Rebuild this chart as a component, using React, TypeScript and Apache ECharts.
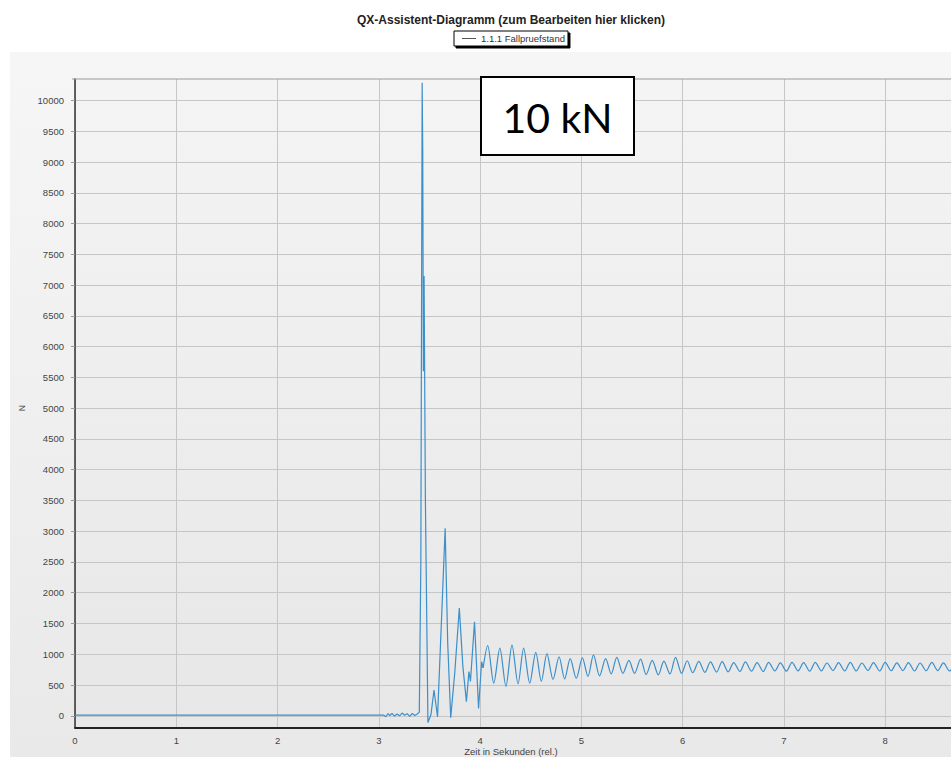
import React, { useEffect, useRef } from "react";
import * as echarts from "echarts";

const chartTitle = "QX-Assistent-Diagramm (zum Bearbeiten hier klicken)";
const seriesName = "1.1.1 Fallpruefstand";
const xAxisTitle = "Zeit in Sekunden (rel.)";
const yAxisTitle = "N";
const annotation = "10 kN";

// Impact phase (baseline, noise, main spike, first rebounds) – seconds / newtons
const impactTimes = [
  0, 3.05, 3.07, 3.09, 3.11, 3.13, 3.155, 3.18, 3.205, 3.23, 3.255, 3.28, 3.305,
  3.33, 3.355, 3.38, 3.4, 3.415, 3.428, 3.434, 3.44, 3.447, 3.46, 3.485, 3.515,
  3.545, 3.58, 3.62, 3.655, 3.68, 3.71, 3.75, 3.795, 3.83, 3.865, 3.89, 3.905,
  3.945, 3.985, 4.015, 4.03,
];
const impactForces = [
  10, 10, -15, 35, 5, 40, -5, 30, 0, 45, 10, 35, -10,
  40, 5, 30, 60, 2500, 10290, 9150, 5600, 7150, 3500, -110, 20,
  420, -20, 1600, 3050, 1200, -30, 700, 1750, 800, 230, 720, 560,
  1530, 120, 880, 780,
];

// Ringing phase (decaying oscillation around ~800 N)
const ringTimes = [
  4.03, 4.075, 4.135, 4.195, 4.255, 4.315, 4.375, 4.43, 4.49, 4.55, 4.605, 4.66,
  4.72, 4.78, 4.835, 4.89, 4.95, 5.01, 5.065, 5.12, 5.18, 5.24, 5.295, 5.35,
  5.41, 5.47, 5.525, 5.585, 5.64, 5.7, 5.76, 5.815, 5.875, 5.93, 5.99, 6.045,
  6.1, 6.16, 6.22, 6.275, 6.335, 6.39, 6.45, 6.505, 6.565, 6.62, 6.68, 6.735,
  6.795, 6.85, 6.91, 6.965, 7.025, 7.08, 7.14, 7.195, 7.255, 7.31, 7.37, 7.425,
  7.485, 7.54, 7.6, 7.655, 7.715, 7.77, 7.83, 7.885, 7.945, 8.0, 8.06, 8.115,
  8.175, 8.23, 8.29, 8.345, 8.405, 8.46, 8.52, 8.575, 8.635, 8.69,
];
const ringForces = [
  780, 1140, 530, 1100, 480, 1150, 520, 1100, 530, 1030, 560, 1010,
  590, 960, 600, 930, 610, 940, 640, 990, 650, 930, 680, 950,
  690, 900, 690, 920, 670, 900, 665, 890, 680, 950, 690, 895,
  700, 885, 705, 875, 710, 880, 715, 865, 720, 875, 725, 865,
  720, 870, 730, 860, 725, 870, 730, 865, 725, 870, 730, 858,
  735, 865, 730, 868, 728, 858, 735, 865, 728, 870, 732, 860,
  735, 865, 728, 858, 732, 868, 735, 860, 730, 865,
];

const xTickMin = 0;
const xTickMax = 8.65;
const yTickMin = 0;
const yTickMax = 10000;
const yTickStep = 500;

const FONT = "'Liberation Sans', Arial, sans-serif";

export default function App() {
  const ref = useRef<HTMLDivElement>(null);

  useEffect(() => {
    if (!ref.current) return;
    const chart = echarts.init(ref.current, null, { renderer: "svg" });
    const impactData = impactTimes.map((t, i) => [t, impactForces[i]]);
    const ringData = ringTimes.map((t, i) => [t, ringForces[i]]);
    const lineColor = "#3b8fca";
    const gridColor = "#c6c6c6";

    chart.setOption({
      animation: false,
      title: {
        text: chartTitle,
        left: 506,
        top: 9,
        textAlign: "center",
        textStyle: { fontSize: 12, fontWeight: "bold", color: "#222", fontFamily: FONT },
      },
      legend: {
        data: [seriesName],
        left: 454,
        top: 31,
        padding: [2, 3, 2, 8],
        icon: "rect",
        itemWidth: 14,
        itemHeight: 1,
        backgroundColor: "#fff",
        borderColor: "#000",
        borderWidth: 1,
        shadowColor: "#000",
        shadowOffsetX: 2,
        shadowOffsetY: 2,
        shadowBlur: 0,
        itemStyle: { color: "#555" },
        textStyle: { fontSize: 9.5, lineHeight: 11, color: "#333", fontFamily: FONT },
      },
      grid: [
        {
          left: 75,
          right: 0,
          top: 79,
          bottom: 29.5,
          show: true,
          borderWidth: 0,
          backgroundColor: new echarts.graphic.LinearGradient(0, 0, 0, 1, [
            { offset: 0, color: "#f4f4f4" },
            { offset: 1, color: "#e7e7e7" },
          ]),
        },
        { left: 75, right: 0, top: 100.5, bottom: 41.2, show: false },
      ],
      xAxis: [
        {
          type: "value",
          gridIndex: 0,
          min: xTickMin,
          max: xTickMax,
          interval: 1,
          axisLine: { show: true, onZero: false, lineStyle: { color: "#222", width: 2 } },
          axisTick: { show: false },
          axisLabel: {
            margin: 8,
            fontSize: 9.5,
            color: "#444",
            fontFamily: FONT,
            showMaxLabel: false,
          },
          splitLine: { show: true, lineStyle: { color: gridColor, width: 1 } },
        },
        { type: "value", gridIndex: 1, min: xTickMin, max: xTickMax, show: false },
      ],
      yAxis: [
        {
          type: "value",
          gridIndex: 0,
          min: -190,
          max: 10350,
          offset: 3,
          axisLine: { show: true, lineStyle: { color: "#333", width: 1.5 } },
          axisTick: { show: false },
          axisLabel: { show: false },
          splitLine: { show: false },
        },
        {
          type: "value",
          gridIndex: 1,
          min: yTickMin,
          max: yTickMax,
          interval: yTickStep,
          offset: 3,
          name: yAxisTitle,
          nameLocation: "middle",
          nameGap: 38,
          nameTextStyle: { fontSize: 8.5, color: "#444", fontFamily: FONT },
          axisLine: { show: false },
          axisTick: { show: true, length: 4, lineStyle: { color: "#999" } },
          axisLabel: {
            margin: 8,
            fontSize: 9.5,
            color: "#444",
            fontFamily: FONT,
            formatter: (v: number) => String(v),
          },
          splitLine: { show: true, lineStyle: { color: gridColor, width: 1 } },
        },
      ],
      series: [
        {
          type: "line",
          name: seriesName,
          xAxisIndex: 0,
          yAxisIndex: 0,
          data: impactData,
          symbol: "none",
          lineStyle: { color: lineColor, width: 1.2 },
          itemStyle: { color: lineColor },
        },
        {
          type: "line",
          name: seriesName,
          xAxisIndex: 0,
          yAxisIndex: 0,
          data: ringData,
          symbol: "none",
          smooth: 0.3,
          lineStyle: { color: lineColor, width: 1.2 },
          itemStyle: { color: lineColor },
        },
      ],
      graphic: [
        {
          type: "line",
          shape: { x1: 72, y1: 79, x2: 951, y2: 79 },
          style: { stroke: "#9a9a9a", lineWidth: 1 },
          z: 50,
        },
        {
          type: "text",
          x: 511,
          y: 751,
          style: {
            text: xAxisTitle,
            font: `9.5px ${FONT}`,
            fill: "#444",
            align: "center",
            verticalAlign: "middle",
          },
          z: 50,
        },
        {
          type: "rect",
          shape: { x: 481, y: 77, width: 153, height: 78 },
          style: { fill: "#fff", stroke: "#000", lineWidth: 2 },
          z: 100,
        },
        {
          type: "text",
          x: 557.5,
          y: 117,
          style: {
            text: annotation,
            font: "41px Lato, 'Open Sans', sans-serif",
            fill: "#000",
            align: "center",
            verticalAlign: "middle",
          },
          z: 101,
        },
      ],
    });

    return () => chart.dispose();
  }, []);

  return (
    <div style={{ position: "fixed", left: 0, top: 0, width: 951, height: 757, background: "#fff" }}>
      <div
        style={{
          position: "absolute",
          left: 10,
          top: 52,
          width: 941,
          height: 705,
          background: "linear-gradient(#f6f6f6, #e9e9e9)",
        }}
      />
      <div ref={ref} style={{ position: "absolute", left: 0, top: 0, width: 951, height: 757 }} />
    </div>
  );
}
